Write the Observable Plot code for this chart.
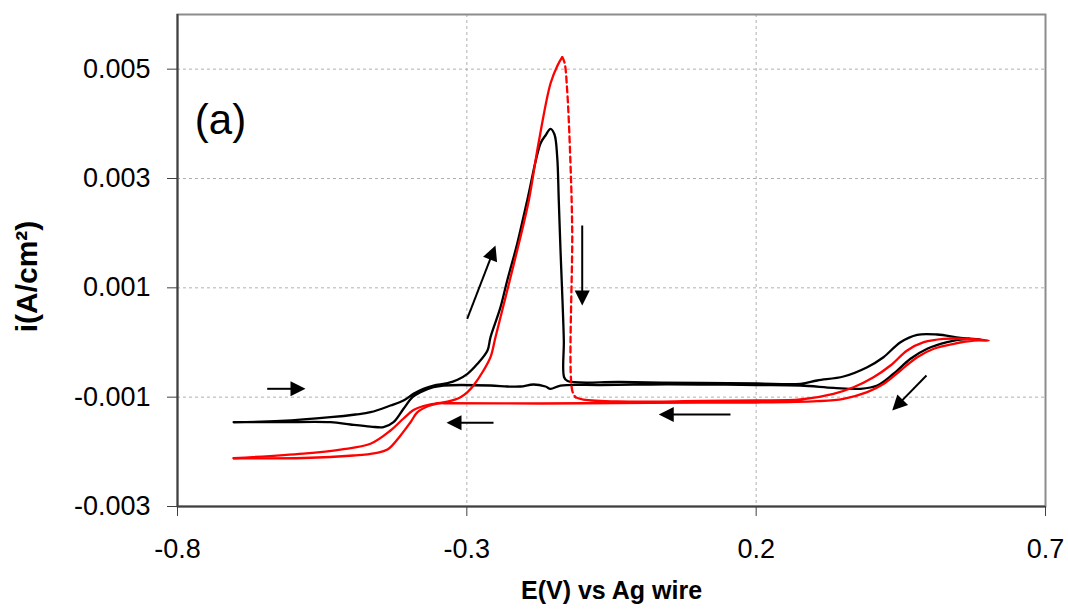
<!DOCTYPE html>
<html><head><meta charset="utf-8">
<script src="https://cdn.jsdelivr.net/npm/d3@7"></script>
<script src="https://cdn.jsdelivr.net/npm/@observablehq/plot@0.6"></script>
<style>body{margin:0;background:#fff}</style>
</head><body><div id="chart"></div>
<script>
const xTicks = [-0.8, -0.3, 0.2, 0.7];
const yTicks = [-0.003, -0.001, 0.001, 0.003, 0.005];
const xDomain = [-0.8, 0.7];
const yDomain = [-0.003, 0.006];

// Black cycle (forward then reverse)
const blackE = [-0.703,-0.622,-0.5356,-0.4924,-0.4665,-0.4319,-0.4094,-0.3922,-0.3749,-0.3576,-0.3334,-0.3161,-0.2989,-0.2816,-0.2643,-0.2591,-0.2418,-0.2302,-0.213,-0.1957,-0.1727,-0.1641,-0.1554,-0.1485,-0.1438,-0.1411,-0.1381,-0.1347,-0.1324,-0.1319,-0.126,-0.0344,0.1038,0.2006,0.2766,0.3055,0.3509,0.3919,0.42,0.4494,0.4783,0.5128,0.5531,0.5877,
  0.5647,0.5301,0.4956,0.4667,0.4378,0.4092,0.3803,0.3336,0.2766,0.2006,0.1038,0.0174,-0.069,-0.1381,-0.1554,-0.1641,-0.1848,-0.2073,-0.2297,-0.2591,-0.3403,-0.3576,-0.3801,-0.3939,-0.4094,-0.4267,-0.444,-0.4665,-0.501,-0.5356,-0.622,-0.703];
const blackI = [-0.00146,-0.001436,-0.001367,-0.001317,-0.001275,-0.001153,-0.001061,-0.000939,-0.000847,-0.000787,-0.000745,-0.000682,-0.000573,-0.00039,-0.000146,0.000097,0.000646,0.001134,0.001805,0.002598,0.00364,0.003787,0.003909,0.003805,0.00339,0.002598,0.001683,0.000768,0.0000365,-0.000635,-0.000704,-0.000723,-0.000741,-0.00075,-0.000756,-0.000695,-0.000622,-0.000452,-0.000269,0.0000054,0.000141,0.000146,0.0000859,0.0000548,
  0.0000676,0.0000054,-0.000115,-0.000298,-0.000567,-0.000787,-0.000847,-0.000829,-0.000787,-0.000778,-0.000768,-0.000768,-0.000778,-0.000787,-0.000847,-0.000805,-0.000768,-0.000805,-0.000805,-0.000787,-0.000787,-0.000818,-0.000909,-0.001001,-0.001213,-0.001458,-0.00155,-0.001537,-0.0015,-0.001458,-0.001458,-0.001458];

// Red cycle: rise to peak, dashed fall, return
const redRiseE = [-0.703,-0.5823,-0.5183,-0.4665,-0.4319,-0.4094,-0.3922,-0.3749,-0.3541,-0.3334,-0.3109,-0.2989,-0.2885,-0.2712,-0.2591,-0.2505,-0.2302,-0.2102,-0.1929,-0.1762,-0.1554,-0.1433,-0.1352];
const redRiseI = [-0.002117,-0.002031,-0.001958,-0.001853,-0.00161,-0.00139,-0.001235,-0.001162,-0.001116,-0.001083,-0.001001,-0.000909,-0.000787,-0.000512,-0.000269,0.000097,0.000951,0.001805,0.002598,0.00364,0.004738,0.005067,0.005219];
const redDropE = [-0.1352,-0.1312,-0.1266,-0.1209,-0.1179,-0.1179,-0.1122];
const redDropI = [0.005219,0.005122,0.00461,0.003274,0.002049,-0.000878,-0.001001];
const redBackE = [-0.1122,-0.0984,-0.0396,0.1038,0.2006,0.2766,0.3336,0.3682,0.4028,0.4321,0.461,0.4897,0.5242,0.5647,0.602,0.5761,0.5415,0.507,0.4783,0.4494,0.4206,0.3919,0.3509,0.3055,0.2006,0.1038,-0.0396,-0.1727,-0.3334,-0.3507,-0.3662,-0.3853,-0.3973,-0.4146,-0.4371,-0.4578,-0.4959,-0.5823,-0.703];
const redBackI = [-0.001001,-0.001043,-0.001079,-0.00107,-0.001061,-0.001043,-0.000939,-0.000818,-0.000635,-0.000421,-0.000146,0.0000054,0.0000676,0.0000676,0.0000365,0.0000365,-0.0000239,-0.000115,-0.000269,-0.000512,-0.000756,-0.000909,-0.00103,-0.001074,-0.001098,-0.001098,-0.001107,-0.001116,-0.001111,-0.001116,-0.001162,-0.001275,-0.001458,-0.001701,-0.001958,-0.002022,-0.002067,-0.002113,-0.002117];

// Scan-direction arrows (tail -> tip)
const arrowTailE = [-0.645,-0.2994,-0.2539,-0.1006,0.1556,0.4943];
const arrowTailI = [-0.000847,0.000433,-0.001469,0.00214,-0.001317,-0.000604];
const arrowTipE = [-0.5788,-0.2505,-0.3351,-0.1006,0.0317,0.4351];
const arrowTipI = [-0.000847,0.001774,-0.001469,0.000677,-0.001317,-0.001244];

const W = 1068, H = 616;
const M = {top: 14, right: 23, bottom: 110, left: 177};

const pts = (E, I) => E.map((e, k) => ({e, i: I[k]}));
const black = pts(blackE, blackI);
const redRise = pts(redRiseE, redRiseI);
const redDrop = pts(redDropE, redDropI);
const redBack = pts(redBackE, redBackI);

const sx = Plot.scale({x: {domain: xDomain, range: [M.left, W - M.right]}});
const sy = Plot.scale({y: {domain: yDomain, range: [H - M.bottom, M.top]}});
const arrows = arrowTailE.map((_, k) => {
  const x0 = sx.apply(arrowTailE[k]), y0 = sy.apply(arrowTailI[k]);
  const x1 = sx.apply(arrowTipE[k]), y1 = sy.apply(arrowTipI[k]);
  const L = Math.hypot(x1 - x0, y1 - y0), ux = (x1 - x0) / L, uy = (y1 - y0) / L;
  return {e0: arrowTailE[k], i0: arrowTailI[k], e1: arrowTipE[k], i1: arrowTipI[k],
    eS: sx.invert(x1 - ux * 9), iS: sy.invert(y1 - uy * 9),
    rot: Math.atan2(ux, -uy) * 180 / Math.PI};
});
const head = {draw(ctx) { ctx.moveTo(0, 0); ctx.lineTo(7.5, 15); ctx.lineTo(-7.5, 15); ctx.closePath(); }};

const chart = Plot.plot({
  width: W, height: H,
  marginTop: M.top, marginRight: M.right, marginBottom: M.bottom, marginLeft: M.left,
  style: {fontFamily: "'Liberation Sans', Arial, sans-serif", background: "#fff", color: "#000"},
  x: {domain: xDomain, label: null},
  y: {domain: yDomain, label: null},
  marks: [
    Plot.gridX(xTicks, {stroke: "#b0b0b0", strokeOpacity: 1, strokeDasharray: "3,3"}),
    Plot.gridY(yTicks, {stroke: "#b0b0b0", strokeOpacity: 1, strokeDasharray: "3,3"}),
    Plot.frame({stroke: "#8c8c8c", strokeWidth: 2}),
    Plot.ruleX([xDomain[0]], {stroke: "#404040", strokeWidth: 2}),
    Plot.ruleY([yDomain[0]], {stroke: "#404040", strokeWidth: 2}),
    Plot.line(black, {x: "e", y: "i", stroke: "#000", strokeWidth: 2.3, curve: "catmull-rom"}),
    Plot.line(redRise, {x: "e", y: "i", stroke: "#ff0000", strokeWidth: 2.3, curve: "catmull-rom"}),
    Plot.line(redDrop, {x: "e", y: "i", stroke: "#ff0000", strokeWidth: 2.3, strokeDasharray: "6,4", curve: "catmull-rom"}),
    Plot.line(redBack, {x: "e", y: "i", stroke: "#ff0000", strokeWidth: 2.3, curve: "catmull-rom"}),
    Plot.link(arrows, {x1: "e0", y1: "i0", x2: "eS", y2: "iS", stroke: "#000", strokeWidth: 2}),
    Plot.dot(arrows, {x: "e1", y: "i1", symbol: head, r: 5, fill: "#000", rotate: "rot"}),
    Plot.axisX({ticks: xTicks, tickSize: 10, tickPadding: 22, tickFormat: d => d.toFixed(1), stroke: "#404040", fill: "#000", fontSize: 27, label: null}),
    Plot.axisY({ticks: yTicks, tickSize: 10, tickPadding: 17, tickFormat: d => d.toFixed(3), stroke: "#404040", fill: "#000", fontSize: 27, label: null}),
    Plot.text(["(a)"], {text: d => d, frameAnchor: "top-left", dx: 43, dy: 90, textAnchor: "middle", fontSize: 42}),
    Plot.text(["E(V) vs Ag wire"], {text: d => d, frameAnchor: "bottom", dy: 92, fontSize: 25, fontWeight: "bold"}),
    Plot.text(["i(A/cm²)"], {text: d => d, frameAnchor: "left", dx: -150, dy: 16, rotate: -90, textAnchor: "middle", fontSize: 30, fontWeight: "bold"})
  ]
});
document.getElementById("chart").append(chart);
</script>
</body></html>
